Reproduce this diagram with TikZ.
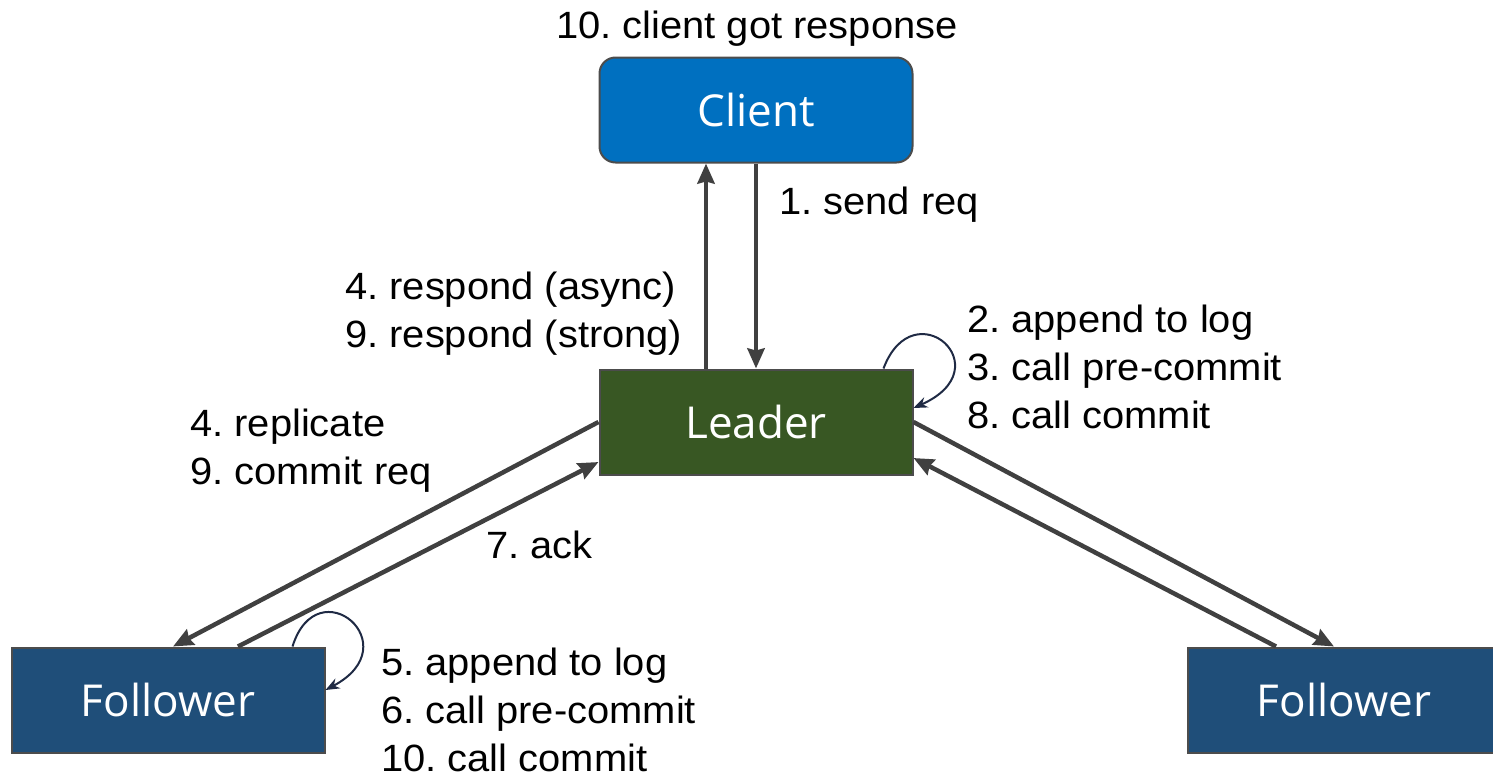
\documentclass[tikz,border=0pt]{standalone}
\usepackage{fontspec}
\setmainfont[FakeStretch=1.05]{Liberation Sans}
\newfontfamily\boxfont{Open Sans}
\usetikzlibrary{arrows.meta}
\definecolor{clientblue}{HTML}{0070C0}
\definecolor{leadergreen}{HTML}{385723}
\definecolor{followerblue}{HTML}{1F4E79}
\definecolor{arrowgray}{HTML}{404040}
\definecolor{loopnavy}{HTML}{1F2A44}
\frenchspacing

\begin{document}
\begin{tikzpicture}[x=1pt,y=-1pt,>={Stealth[length=20pt,width=17pt,inset=2pt]},
  box/.style={draw=black!70,line width=2pt,minimum width=313pt,minimum height=105pt,
    text=white,font=\boxfont\fontsize{44}{52}\selectfont},
  lbl/.style={inner sep=0pt,align=left,anchor=base west,font=\fontsize{38}{48}\selectfont},
  msg/.style={->,draw=arrowgray,line width=4.5pt},
  self/.style={-{Stealth[length=14pt,width=11pt]},draw=loopnavy,line width=2pt}]
\useasboundingbox (0,0) rectangle (1493,779);
\node[box,rounded corners=16pt,fill=clientblue](client) at (756,110){Client};
\node[box,fill=leadergreen](leader) at (756,422){Leader};
\node[box,fill=followerblue](lfol) at (168,700){Follower};
\node[box,fill=followerblue](rfol) at (1344,700){Follower};

\draw[msg] ([xshift=-50pt]leader.north) -- ([xshift=-50pt]leader.north |- client.south);
\draw[msg] (client.south) -- (leader.north);
\draw[msg] (leader.west) -- ([xshift=5pt]lfol.north);
\draw[msg] ([xshift=70pt]lfol.north) -- ([yshift=-40pt]leader.west);
\draw[msg] (leader.east) -- ([xshift=-10pt]rfol.north);
\draw[msg] ([xshift=-68pt]rfol.north) -- ([yshift=-36pt]leader.east);

\draw[self] ([xshift=-30pt]leader.north east) .. controls +(30pt,80pt) and +(90pt,40pt) .. ([yshift=14pt]leader.east);
\draw[self] ([xshift=-33pt]lfol.north east) .. controls +(25pt,80pt) and +(85pt,45pt) .. ([yshift=10pt]lfol.east);

\node[lbl](got) at (556,38){10. client got response};
\node[lbl](send) at (779,214){1. send req};
\node[lbl](resp) at (345,347){4. respond (async)\\9. respond (strong)};
\node[lbl](ldsteps) at (967,428){2. append to log\\3. call pre-commit\\8. call commit};
\node[lbl](repl) at (190,484){4. replicate\\9. commit req};
\node[lbl](ack) at (486,558){7. ack};
\node[lbl](flsteps) at (381,771){5. append to log\\6. call pre-commit\\10. call commit};
\end{tikzpicture}
\end{document}
